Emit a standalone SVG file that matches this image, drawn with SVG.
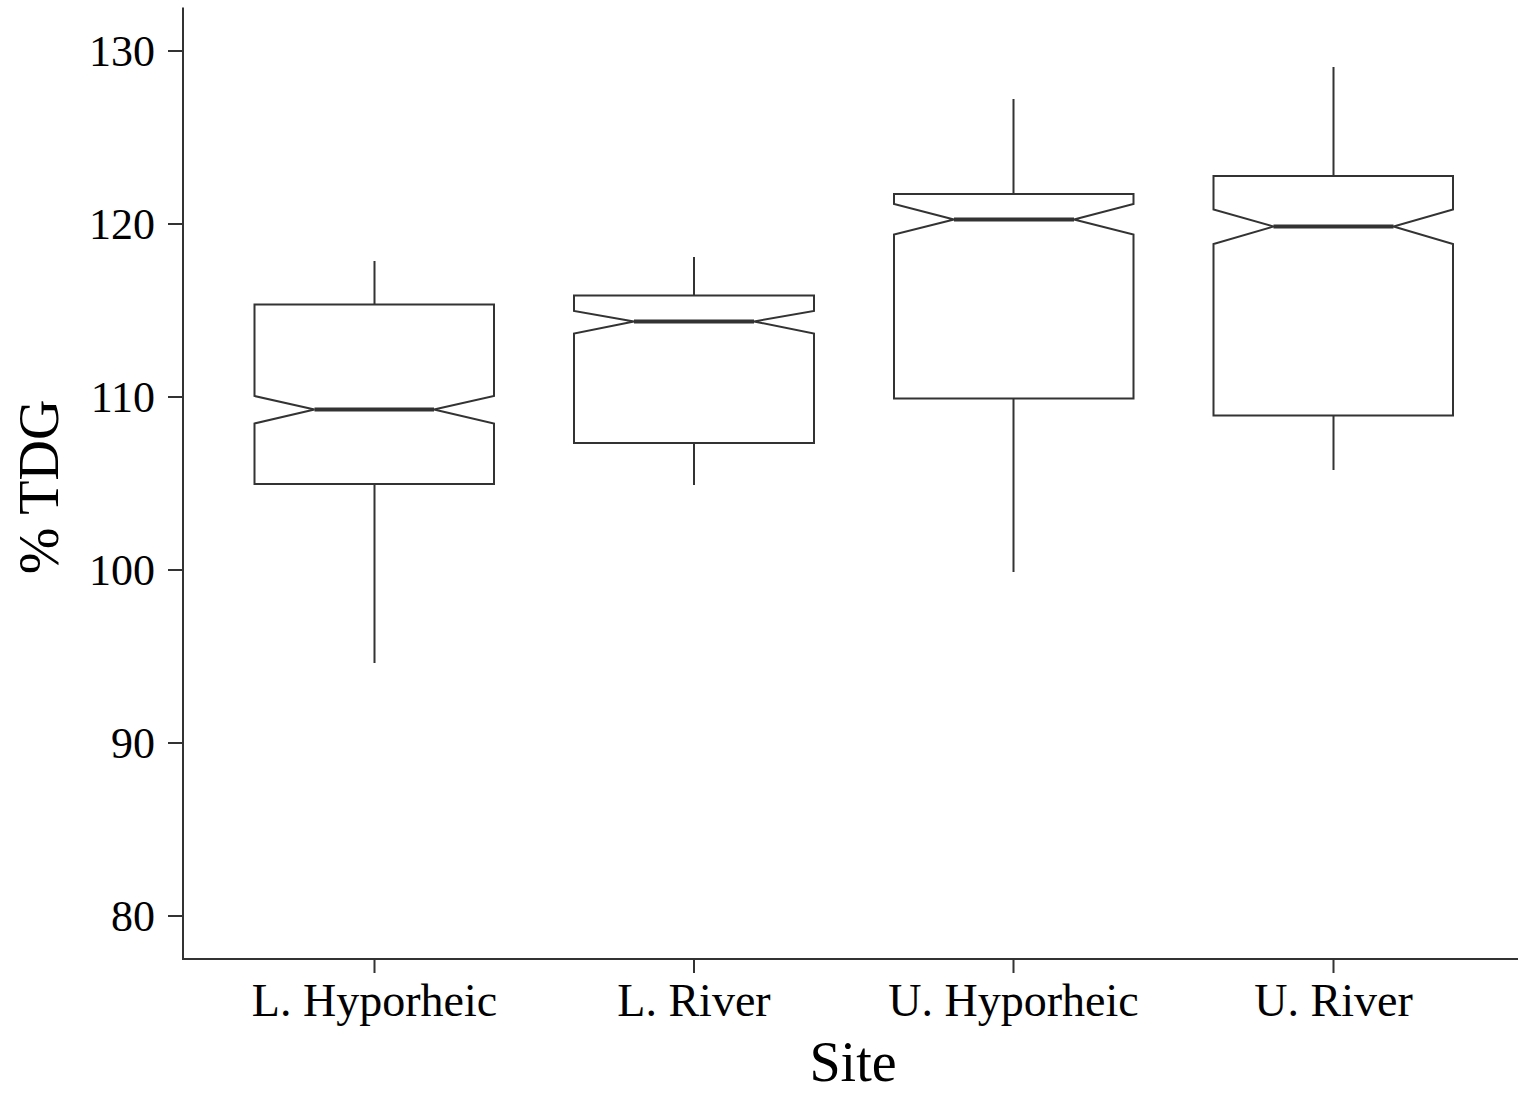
<svg xmlns="http://www.w3.org/2000/svg" width="1518" height="1093" viewBox="0 0 1518 1093">
<style>
.ln{stroke:#333;stroke-width:2;fill:none;stroke-linecap:butt}
.box{stroke:#333;stroke-width:2;fill:#fff;stroke-linejoin:miter}
.med{stroke:#333;stroke-width:4}
.tk{font-family:"Liberation Serif","Times New Roman",serif;font-size:44px;fill:#000}
.xl{font-family:"Liberation Serif","Times New Roman",serif;font-size:46px;fill:#000}
.ttl{font-family:"Liberation Serif","Times New Roman",serif;font-size:56px;fill:#000}
</style>
<rect width="1518" height="1093" fill="#fff"/>
<g id="axes">
<path class="ln" d="M183 7.5 V959 H1518"/>
<path class="ln" d="M168 51 H183 M168 224 H183 M168 397 H183 M168 570 H183 M168 743 H183 M168 916 H183"/>
<path class="ln" d="M374.5 959 V973 M694 959 V973 M1013.5 959 V973 M1333.5 959 V973"/>
</g>
<g id="ylabels" class="tk" text-anchor="end">
<text x="155" y="66">130</text>
<text x="155" y="239">120</text>
<text x="155" y="412">110</text>
<text x="155" y="585">100</text>
<text x="155" y="758">90</text>
<text x="155" y="931">80</text>
</g>
<g id="xlabels" class="xl" text-anchor="middle">
<text x="374.5" y="1016">L. Hyporheic</text>
<text x="694" y="1016">L. River</text>
<text x="1013.5" y="1016">U. Hyporheic</text>
<text x="1333.5" y="1016">U. River</text>
</g>
<text id="ytitle" class="ttl" text-anchor="middle" transform="translate(58,487) rotate(-90)">% TDG</text>
<text id="xtitle" class="ttl" text-anchor="middle" x="853" y="1081">Site</text>
<g id="box1">
<path class="ln" d="M374.5 261 V304.5 M374.5 484 V663"/>
<path class="box" d="M254.5 304.5 H494 V396 L434 409.5 L494 423.5 V484 H254.5 V423.5 L314.5 409.5 L254.5 396 Z"/>
<path class="med" d="M314.5 409.5 H434"/>
</g>
<g id="box2">
<path class="ln" d="M694 257 V295.5 M694 443 V485"/>
<path class="box" d="M574 295.5 H814 V311 L754 321.5 L814 333.5 V443 H574 V333.5 L634 321.5 L574 311 Z"/>
<path class="med" d="M634 321.5 H754"/>
</g>
<g id="box3">
<path class="ln" d="M1013.5 99 V194 M1013.5 398.5 V572"/>
<path class="box" d="M894 194 H1133.5 V204 L1074 219.5 L1133.5 234.5 V398.5 H894 V234.5 L954 219.5 L894 204 Z"/>
<path class="med" d="M954 219.5 H1074"/>
</g>
<g id="box4">
<path class="ln" d="M1333.5 67 V176 M1333.5 415.5 V470"/>
<path class="box" d="M1213.5 176 H1453 V209.5 L1393.5 226.5 L1453 244 V415.5 H1213.5 V244 L1273.5 226.5 L1213.5 209.5 Z"/>
<path class="med" d="M1273.5 226.5 H1393.5"/>
</g>
</svg>
